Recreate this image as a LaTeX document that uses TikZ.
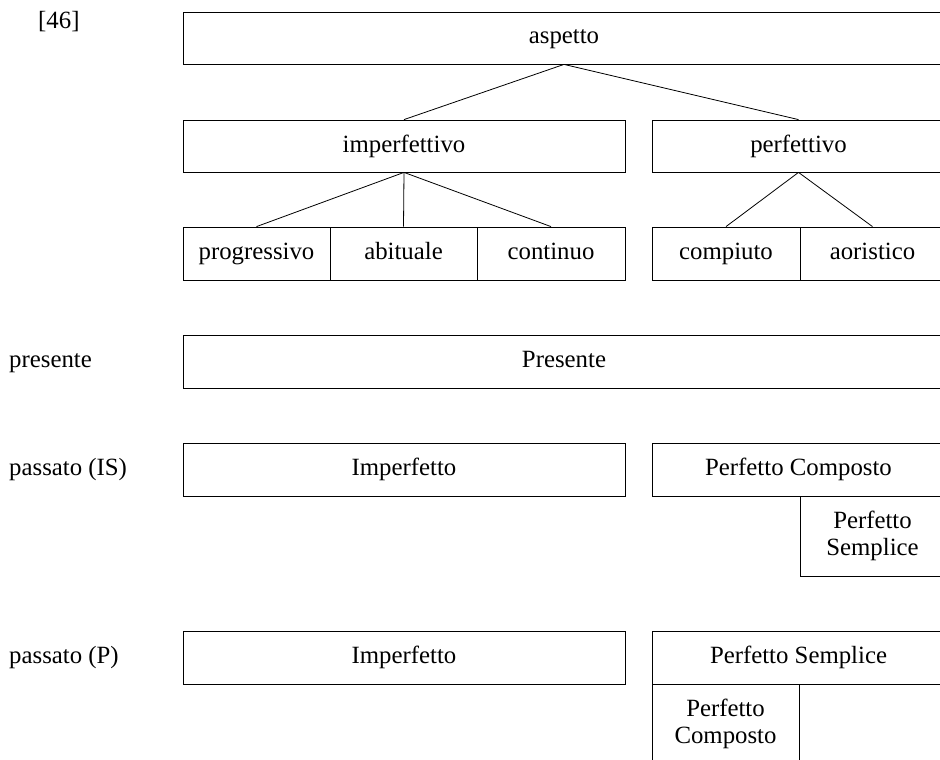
\documentclass[tikz,border=0pt]{standalone}
\usepackage{fontspec}
\setmainfont{Liberation Serif}
\usetikzlibrary{positioning}

\tikzset{
    box/.style={draw, line width=0.8pt, inner sep=0pt, minimum height=53pt, text height=17pt, text depth=5pt},
    subbox/.style={draw, line width=0.8pt, inner sep=0pt, minimum height=80pt, align=center},
    lbl/.style={anchor=west, inner sep=0pt, text height=17pt, text depth=5pt},
    branch/.style={line width=0.8pt}
}

\begin{document}
\begin{tikzpicture}[x=1pt, y=-1pt, font=\fontsize{24.8}{27}\selectfont]
    \useasboundingbox (0,0) rectangle (940,760);
    \clip (0,0) rectangle (940,760);

    % tree of aspect
    \node[anchor=base west, inner sep=0pt] (num) at (38,28.5) {[46]};
    \node[box, minimum width=762pt, minimum height=52pt] (asp) at (564,38) {aspetto};
    \node[box, minimum width=442pt, minimum height=52pt] (imperf) at (404,146) {imperfettivo};
    \node[box, minimum width=293pt, minimum height=52pt] (perf) at (798.5,146) {perfettivo};
    \node[box, minimum width=147pt] (prog) at (256.5,253.5) {progressivo};
    \node[box, minimum width=147pt] (abit) at (403.5,253.5) {abituale};
    \node[box, minimum width=148pt] (cont) at (551,253.5) {continuo};
    \node[box, minimum width=148pt] (comp) at (726,253.5) {compiuto};
    \node[box, minimum width=145pt] (aor) at (872.5,253.5) {aoristico};

    \draw[branch] (asp.south) -- (imperf.north);
    \draw[branch] (asp.south) -- (perf.north);
    \foreach \n in {prog,abit,cont}
        \draw[branch] (imperf.south) -- (\n.north);
    \foreach \n in {comp,aor}
        \draw[branch] (perf.south) -- (\n.north);

    % tenses
    \node[lbl] (lpres) at (9,361.5) {presente};
    \node[box, minimum width=762pt] (pres) at (564,361.5) {Presente};

    \node[lbl] (lis) at (9,469.5) {passato (IS)};
    \node[box, minimum width=442pt] (impIS) at (404,469.5) {Imperfetto};
    \node[box, minimum width=293pt] (pcIS) at (798.5,469.5) {Perfetto Composto};
    \node[subbox, minimum width=145pt] (psIS) at (872.5,536) {Perfetto\\Semplice};

    \node[lbl] (lp) at (9,657.5) {passato (P)};
    \node[box, minimum width=442pt] (impP) at (404,657.5) {Imperfetto};
    \node[box, minimum width=293pt] (psP) at (798.5,657.5) {Perfetto Semplice};
    \node[subbox, minimum width=147pt] (pcP) at (725.5,724) {Perfetto\\Composto};
\end{tikzpicture}
\end{document}
